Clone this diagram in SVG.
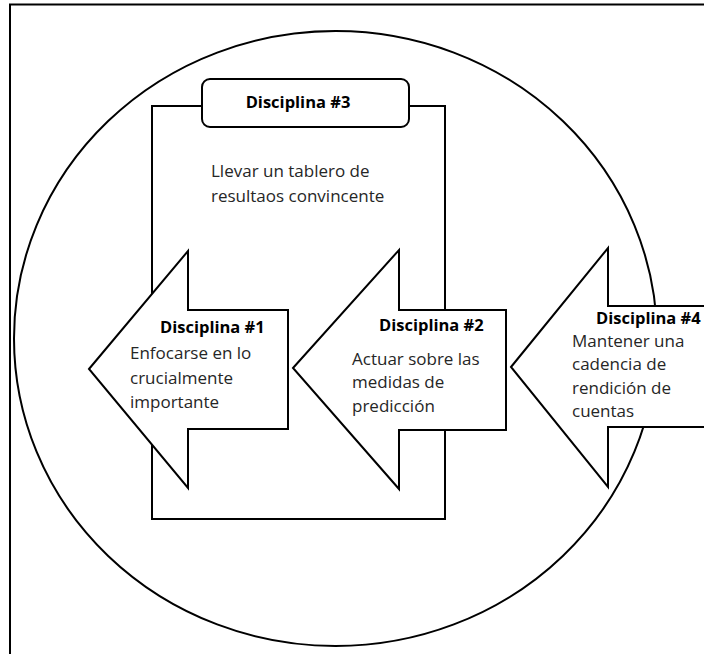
<svg xmlns="http://www.w3.org/2000/svg" width="704" height="654" viewBox="0 0 704 654">
  <style>
    .line { fill: none; stroke: #000; stroke-width: 2; }
    .shape { fill: #fff; stroke: #000; stroke-width: 2; stroke-linejoin: miter; }
    .title { font-family: "Open Sans", "Noto Sans", sans-serif; font-size: 16.5px; font-weight: bold; fill: #000; }
    .body { font-family: "Open Sans", "Noto Sans", sans-serif; font-size: 17px; fill: #262626; }
  </style>
  <rect x="0" y="0" width="704" height="654" fill="#fff"/>

  <!-- outer frame -->
  <rect id="frame" class="line" x="10" y="4.5" width="720" height="700"/>

  <!-- enclosing circle -->
  <ellipse id="circle" class="line" cx="335.5" cy="338.5" rx="321.5" ry="307.5" stroke-width="1.8"/>

  <!-- Disciplina #3: scoreboard frame with tab -->
  <g id="disciplina3">
    <rect class="shape" x="152" y="106" width="293" height="413"/>
    <rect class="shape" x="202" y="79" width="207" height="48" rx="8" ry="8"/>
    <text class="title" x="298" y="108" text-anchor="middle">Disciplina #3</text>
    <text class="body" x="211" y="177">Llevar un tablero de</text>
    <text class="body" x="211" y="202">resultaos convincente</text>
  </g>

  <!-- Disciplina #1 arrow -->
  <g id="disciplina1">
    <path class="shape" d="M89,369 L188,251 L188,310 L288,310 L288,429 L188,429 L188,488 Z"/>
    <text class="title" x="160" y="333">Disciplina #1</text>
    <text class="body" x="130" y="359">Enfocarse en lo</text>
    <text class="body" x="130" y="384">crucialmente</text>
    <text class="body" x="130" y="408">importante</text>
  </g>

  <!-- Disciplina #2 arrow -->
  <g id="disciplina2">
    <path class="shape" d="M293,368 L399,250 L399,310 L506,310 L506,430 L399,430 L399,489 Z"/>
    <text class="title" x="379" y="331">Disciplina #2</text>
    <text class="body" x="352" y="365">Actuar sobre las</text>
    <text class="body" x="352" y="388">medidas de</text>
    <text class="body" x="352" y="412">predicción</text>
  </g>

  <!-- Disciplina #4 arrow -->
  <g id="disciplina4">
    <path class="shape" d="M511,367 L608,248 L608,306 L720,306 L720,427 L608,427 L608,487 Z"/>
    <text class="title" x="596" y="324">Disciplina #4</text>
    <text class="body" x="572" y="347">Mantener una</text>
    <text class="body" x="572" y="370">cadencia de</text>
    <text class="body" x="572" y="394">rendición de</text>
    <text class="body" x="572" y="417">cuentas</text>
  </g>

  <g id="connectors"/>
</svg>
